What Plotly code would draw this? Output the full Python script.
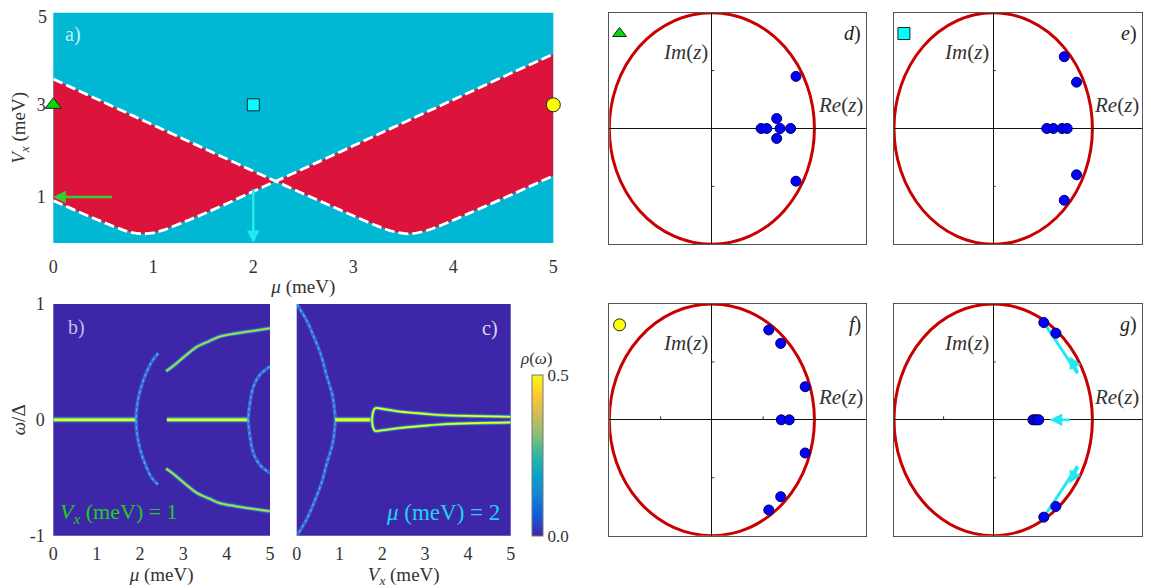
import numpy as np
import plotly.graph_objects as go

# the page body has an 8 px margin, so the figure is drawn 8 px in and made that much smaller
OFF = 8
W, H = 1151 - OFF, 588 - OFF
RIGHT = 1142  # last visible column of the page
SERIF = "Liberation Serif"

# ---- panel a: phase diagram, boundaries ----
mu_grid = [0, 0.25, 0.5, 0.7, 0.8, 0.9, 1.0, 1.1, 1.3, 1.5, 1.75, 2.0, 2.225, 2.5, 2.75,
           3.0, 3.25, 3.4, 3.55, 3.7, 3.85, 4.1, 4.5, 5.0]
vx_band1 = [0.92, 0.68, 0.45, 0.28, 0.22, 0.20, 0.22, 0.28, 0.45, 0.63, 0.87, 1.12, 1.34, 1.61,
            1.86, 2.11, 2.36, 2.51, 2.66, 2.81, 2.96, 3.21, 3.61, 4.10]
vx_band2 = [3.56, 3.31, 3.06, 2.86, 2.76, 2.66, 2.56, 2.46, 2.26, 2.06, 1.81, 1.56, 1.34, 1.07,
            0.83, 0.59, 0.36, 0.25, 0.20, 0.25, 0.36, 0.59, 0.97, 1.46]
marker_mu = [0, 2, 5]
marker_vx = [3, 3, 3]

# ---- panel b: LDOS vs mu at Vx = 1 ----
b_zero_left = [0, 1.91]
b_zero_right = [2.62, 4.5]
b_arc1_mu = [2.42, 2.27, 2.14, 2.04, 1.97, 1.925, 1.91, 1.925, 1.97, 2.04, 2.14, 2.27, 2.42]
b_arc1_w = [0.575, 0.5, 0.4, 0.3, 0.2, 0.1, 0, -0.1, -0.2, -0.3, -0.4, -0.5, -0.56]
b_branch_mu = [2.6, 2.75, 2.88, 3.1, 3.31, 3.6, 3.85, 4.2, 4.46, 5.0]
b_branch_w = [0.42, 0.46, 0.5, 0.57, 0.63, 0.68, 0.72, 0.745, 0.76, 0.79]
b_arc2_mu = [5.0, 4.77, 4.62, 4.54, 4.5, 4.54, 4.62, 4.77, 5.0]
b_arc2_w = [0.46, 0.39, 0.29, 0.15, 0, -0.15, -0.29, -0.39, -0.46]

# ---- panel c: LDOS vs Vx at mu = 2 ----
c_arc_vx = [0, 0.23, 0.42, 0.58, 0.70, 0.83, 0.88, 0.9, 0.88, 0.83, 0.70, 0.58, 0.42, 0.23, 0]
c_arc_w = [1, 0.86, 0.7, 0.545, 0.38, 0.22, 0.1, 0, -0.1, -0.22, -0.38, -0.545, -0.7, -0.86, -1]
c_zero = [0.9, 1.76]
c_loop_vx = [1.76, 1.78, 1.83, 2.0, 2.41, 3.0, 3.35, 4.0, 5.0]
c_loop_up = [0, 0.06, 0.10, 0.095, 0.071, 0.052, 0.042, 0.034, 0.027]
c_loop_dn = [0, -0.06, -0.095, -0.09, -0.07, -0.05, -0.04, -0.03, -0.022]

# ---- panels d-g: zeros in the complex plane ----
zeros = {
    "d": ([0.82, 0.82, 0.632, 0.632, 0.48, 0.535, 0.665, 0.768],
          [0.45, -0.455, 0.086, -0.086, 0, 0, 0, 0]),
    "e": ([0.716, 0.84, 0.84, 0.716, 0.54, 0.606, 0.694, 0.746],
          [0.62, 0.40, -0.40, -0.62, 0, 0, 0, 0]),
    "f": ([0.555, 0.671, 0.91, 0.677, 0.755, 0.91, 0.671, 0.555],
          [0.776, 0.66, 0.286, 0, 0, -0.286, -0.663, -0.778]),
    "g": ([0.51, 0.632, 0.632, 0.51, 0.40, 0.42, 0.44, 0.46],
          [0.84, 0.748, -0.748, -0.84, 0, 0, 0, 0]),
}
corner_symbol = {"d": ("triangle-up", "#00dd00"), "e": ("square", "#00ffff"),
                 "f": ("circle", "#ffff00"), "g": None}

parula = ["#3e26a8", "#0f5cdd", "#1481d6", "#06a4ca", "#2eb7a4",
          "#87bf77", "#d1bb59", "#fec832", "#f9fb0e"]
BG_DOS = "#3e26a8"


def fx(px):
    return (px - OFF) / W


def fy(py):
    return 1 - (py - OFF) / H


fig = go.Figure()


def glow(x, y, xa, ya, core="#f9fb0e", cw=2.0, widths=(7, 4.5), colors=("rgba(40,110,240,0.45)", "#2eb7a4")):
    for w, c in zip(widths, colors):
        fig.add_trace(go.Scatter(x=x, y=y, xaxis=xa, yaxis=ya, mode="lines", line=dict(color=c, width=w, shape="spline"),
                                 showlegend=False, hoverinfo="skip"))
    fig.add_trace(go.Scatter(x=x, y=y, xaxis=xa, yaxis=ya, mode="lines", line=dict(color=core, width=cw, shape="spline"),
                             showlegend=False, hoverinfo="skip"))


def thin(x, y, xa, ya):
    fig.add_trace(go.Scatter(x=x, y=y, xaxis=xa, yaxis=ya, mode="lines",
                             line=dict(color="rgba(60,140,250,0.6)", width=3.5, shape="spline"),
                             showlegend=False, hoverinfo="skip"))
    fig.add_trace(go.Scatter(x=x, y=y, xaxis=xa, yaxis=ya, mode="lines",
                             line=dict(color="#3fc0c8", width=1.3, shape="spline", dash="dot"),
                             showlegend=False, hoverinfo="skip"))


# panel a
lower = np.minimum(vx_band1, vx_band2)
upper = np.maximum(vx_band1, vx_band2)
fig.add_trace(go.Scatter(x=list(mu_grid) + list(mu_grid)[::-1], y=list(lower) + list(upper)[::-1],
                         fill="toself", fillcolor="#dc143c", line=dict(width=0), mode="lines",
                         xaxis="x", yaxis="y", showlegend=False, hoverinfo="skip"))
for band in (vx_band1, vx_band2):
    fig.add_trace(go.Scatter(x=mu_grid, y=band, mode="lines", xaxis="x", yaxis="y",
                             line=dict(color="white", width=2.8, dash="10px,4px", shape="spline"),
                             showlegend=False, hoverinfo="skip"))
for (sym, col, sz), m, v in zip([("triangle-up", "#00dd00", 14), ("square", "#00ffff", 12), ("circle", "#ffff00", 14)],
                                marker_mu, marker_vx):
    fig.add_trace(go.Scatter(x=[m], y=[v], mode="markers", xaxis="x", yaxis="y", cliponaxis=False,
                             marker=dict(symbol=sym, color=col, size=sz, line=dict(color="#222", width=1)),
                             showlegend=False, hoverinfo="skip"))

# panel b
glow([b_zero_left[0], 0.4, b_zero_left[1]], [0, 0, 0], "x2", "y2", cw=2.5)
glow([b_zero_right[0], 3.0, b_zero_right[1]], [0, 0, 0], "x2", "y2", cw=2.5)
thin(b_arc1_mu, b_arc1_w, "x2", "y2")
thin(b_arc2_mu, b_arc2_w, "x2", "y2")
glow(b_branch_mu, b_branch_w, "x2", "y2", core="#c8d83a", cw=1.5, widths=(5, 3))
glow(b_branch_mu, [-w for w in b_branch_w], "x2", "y2", core="#c8d83a", cw=1.5, widths=(5, 3))

# panel c
thin(c_arc_vx, c_arc_w, "x3", "y3")
glow(c_zero, [0, 0], "x3", "y3", cw=3)
glow(c_loop_vx, c_loop_up, "x3", "y3", cw=1.6, widths=(5, 3))
glow(c_loop_vx, c_loop_dn, "x3", "y3", cw=1.6, widths=(5, 3))

# colour bar
fig.add_trace(go.Scatter(x=[0, 0], y=[0, 0], xaxis="x2", yaxis="y2", mode="markers",
                         marker=dict(size=0.1, opacity=0, color=[0, 0.5], cmin=0, cmax=0.5,
                                     colorscale=[[i / (len(parula) - 1), c] for i, c in enumerate(parula)],
                                     showscale=True,
                                     colorbar=dict(x=fx(532.3), xanchor="left", y=fy(535.7), yanchor="bottom",
                                                   len=(535.7 - 374.3) / H, lenmode="fraction", thickness=11,
                                                   xpad=0, ypad=0, outlinewidth=1, outlinecolor="#777",
                                                   tickvals=[0, 0.5], ticktext=["0.0", "0.5"], ticks="",
                                                   tickfont=dict(family=SERIF, size=17, color="#333"))),
                         showlegend=False, hoverinfo="skip"))

# panels d-g
zpanels = [("d", "x4", "y4"), ("e", "x5", "y5"), ("f", "x6", "y6"), ("g", "x7", "y7")]
for key, xa, ya in zpanels:
    zx, zy = zeros[key]
    if key == "g":
        for s in (1, -1):
            fig.add_trace(go.Scatter(x=[0.85, 0.51], y=[0.40 * s, 0.84 * s], xaxis=xa, yaxis=ya, mode="lines",
                                     line=dict(color="#22e8f0", width=3), showlegend=False, hoverinfo="skip"))
    fig.add_trace(go.Scatter(x=zx, y=zy, xaxis=xa, yaxis=ya, mode="markers",
                             marker=dict(color="#0000ff", size=10, line=dict(color="#000060", width=1)),
                             showlegend=False, hoverinfo="skip"))
    if corner_symbol[key]:
        sym, col = corner_symbol[key]
        fig.add_trace(go.Scatter(x=[-0.9], y=[0.82], xaxis=xa, yaxis=ya, mode="markers",
                                 marker=dict(symbol=sym, color=col, size=12, line=dict(color="#222", width=1)),
                                 showlegend=False, hoverinfo="skip"))

tick_font = dict(family=SERIF, size=18, color="#333")
title_font = dict(family=SERIF, size=19, color="#333")


def data_axis(dom, rng, tickvals, title, standoff, ticklen):
    return dict(domain=dom, range=rng, tickvals=tickvals, showgrid=False, zeroline=False, showline=False,
                ticks="outside", ticklen=ticklen, tickcolor="rgba(0,0,0,0)", tickfont=tick_font,
                ticklabeloverflow="allow",
                title=dict(text=title, font=title_font, standoff=standoff), fixedrange=True, automargin=False)


def zaxis(dom, rng, anchor):
    return dict(domain=dom, range=rng, anchor=anchor, showgrid=False, zeroline=True, zerolinecolor="#111",
                zerolinewidth=1, showline=True, mirror=True, linecolor="#555", linewidth=1,
                showticklabels=False, ticks="", fixedrange=True, automargin=False)


xa_dom = [fx(53.3), fx(553.3)]
ya_dom = [fy(243), fy(12.7)]
xb_dom = [fx(53.3), fx(270)]
xc_dom = [fx(296.7), fx(510.7)]
ybc_dom = [fy(535.7), fy(304)]
xdf_dom = [fx(609.3), fx(865.7)]
xeg_dom = [fx(894), fx(RIGHT)]
yde_dom = [fy(244.3), fy(12.7)]

layout = dict(
    width=W, height=H, margin=dict(l=0, r=0, t=0, b=0, autoexpand=False), paper_bgcolor="white",
    plot_bgcolor="rgba(0,0,0,0)", showlegend=False, font=dict(family=SERIF, color="#333"),
    xaxis=dict(data_axis(xa_dom, [0, 5], [0, 1, 2, 3, 4, 5], "<i>μ</i> (meV)", 4, 7), anchor="y"),
    yaxis=dict(data_axis(ya_dom, [0, 5], [1, 3], "<i>V<sub>x</sub></i> (meV)", 8, 3), anchor="x"),
    xaxis2=dict(data_axis(xb_dom, [0, 5], [0, 1, 2, 3, 4, 5], "<i>μ</i> (meV)", 3, 2), anchor="y2"),
    yaxis2=dict(data_axis(ybc_dom, [-1, 1], [-1, 0, 1], "<i>ω</i>/Δ", 8, 4), anchor="x2",
                ticktext=["-1", "0", "1"]),
    xaxis3=dict(data_axis(xc_dom, [0, 5], [0, 1, 2, 3, 4, 5], "<i>V<sub>x</sub></i> (meV)", 3, 2), anchor="y3"),
    yaxis3=dict(data_axis(ybc_dom, [-1, 1], [], "", 0, 0), anchor="x3", showticklabels=False),
    xaxis4=zaxis(xdf_dom, [-1, 1.5], "y4"), yaxis4=zaxis(yde_dom, [-1, 1], "x4"),
    xaxis5=zaxis(xeg_dom, [-1, 1.5], "y5"), yaxis5=zaxis(yde_dom, [-1, 1], "x5"),
    xaxis6=zaxis(xdf_dom, [-1, 1.5], "y6"), yaxis6=zaxis(ybc_dom, [-1, 1], "x6"),
    xaxis7=zaxis(xeg_dom, [-1, 1.5], "y7"), yaxis7=zaxis(ybc_dom, [-1, 1], "x7"),
)
fig.update_layout(**layout)

shapes = [
    dict(type="rect", xref="x domain", yref="y domain", x0=0, x1=1, y0=0, y1=1, fillcolor="#00b8d4",
         line=dict(width=0), layer="below"),
    dict(type="rect", xref="x2 domain", yref="y2 domain", x0=0, x1=1, y0=0, y1=1, fillcolor=BG_DOS,
         line=dict(width=0), layer="below"),
    dict(type="rect", xref="x3 domain", yref="y3 domain", x0=0, x1=1, y0=0, y1=1, fillcolor=BG_DOS,
         line=dict(width=0), layer="below"),
]
for key, xa, ya in zpanels:
    shapes.append(dict(type="circle", xref=xa, yref=ya, x0=-1, x1=1, y0=-1, y1=1,
                       line=dict(color="#c80000", width=3), layer="below"))
    for t in (-0.5, 0.5):
        shapes.append(dict(type="line", xref=xa, yref=ya, x0=0, x1=0.025, y0=t, y1=t,
                           line=dict(color="#333", width=1)))
        if key in ("f", "g"):
            shapes.append(dict(type="line", xref=xa, yref=ya, x0=t, x1=t, y0=0, y1=0.03,
                               line=dict(color="#333", width=1)))
fig.update_layout(shapes=shapes)

ann = []
# top tick label of panel a sits at the page edge, so place it just inside
ann.append(dict(x=fx(49), y=fy(5), xref="paper", yref="paper", text="5", showarrow=False, xanchor="right",
                yanchor="top", font=tick_font))
# arrows in panel a
ann.append(dict(x=0, y=1, ax=0.6, ay=1, xref="x", yref="y", axref="x", ayref="y", text="", showarrow=True,
                arrowhead=2, arrowsize=1, arrowwidth=2.5, arrowcolor="#2fd02f"))
ann.append(dict(x=2, y=0, ax=2, ay=1.2, xref="x", yref="y", axref="x", ayref="y", text="", showarrow=True,
                arrowhead=2, arrowsize=1, arrowwidth=2.5, arrowcolor="#22e8f0"))
# arrows in panel g
for (hx, hy, tx, ty) in [(0.77, 0.55, 0.86, 0.40), (0.77, -0.55, 0.86, -0.40), (0.57, 0, 0.79, 0)]:
    ann.append(dict(x=hx, y=hy, ax=tx, ay=ty, xref="x7", yref="y7", axref="x7", ayref="y7", text="",
                    showarrow=True, arrowhead=2, arrowsize=1, arrowwidth=2.5, arrowcolor="#22e8f0"))

# colour-bar title
ann.append(dict(x=fx(536), y=fy(358), xref="paper", yref="paper", text="<i>ρ</i>(<i>ω</i>)", showarrow=False,
                font=dict(family=SERIF, size=17, color="#333")))
# panel letters
ann.append(dict(x=0.1, y=4.52, xref="x", yref="y", text="a)", showarrow=False, xanchor="left",
                font=dict(family=SERIF, size=20, color="rgba(235,250,255,0.85)")))
ann.append(dict(x=0.3, y=0.8, xref="x2", yref="y2", text="b)", showarrow=False, xanchor="left",
                font=dict(family=SERIF, size=20, color="rgba(230,230,255,0.8)")))
ann.append(dict(x=4.76, y=0.79, xref="x3", yref="y3", text="c)", showarrow=False, xanchor="right",
                font=dict(family=SERIF, size=20, color="rgba(240,240,255,0.9)")))
ann.append(dict(x=0.1, y=-0.8, xref="x2", yref="y2", text="<i>V<sub>x</sub></i> (meV) = 1", showarrow=False,
                xanchor="left", font=dict(family=SERIF, size=22, color="#22cc22")))
ann.append(dict(x=4.79, y=-0.8, xref="x3", yref="y3", text="<i>μ</i> (meV) = 2", showarrow=False,
                xanchor="right", font=dict(family=SERIF, size=23, color="#1ed4f0")))
for key, xa, ya in zpanels:
    ann.append(dict(x=1.47, y=0.82, xref=xa, yref=ya, text=f"<i>{key}</i>)", showarrow=False, xanchor="right",
                    font=dict(family=SERIF, size=20, color="#222")))
    ann.append(dict(x=-0.02, y=0.66, xref=xa, yref=ya, text="<i>Im</i>(<i>z</i>)", showarrow=False,
                    xanchor="right", font=dict(family=SERIF, size=21, color="#333")))
    ann.append(dict(x=1.49, y=0.2, xref=xa, yref=ya, text="<i>Re</i>(<i>z</i>)", showarrow=False,
                    xanchor="right", font=dict(family=SERIF, size=21, color="#333")))
fig.update_layout(annotations=ann)

fig.write_html("out.html")
